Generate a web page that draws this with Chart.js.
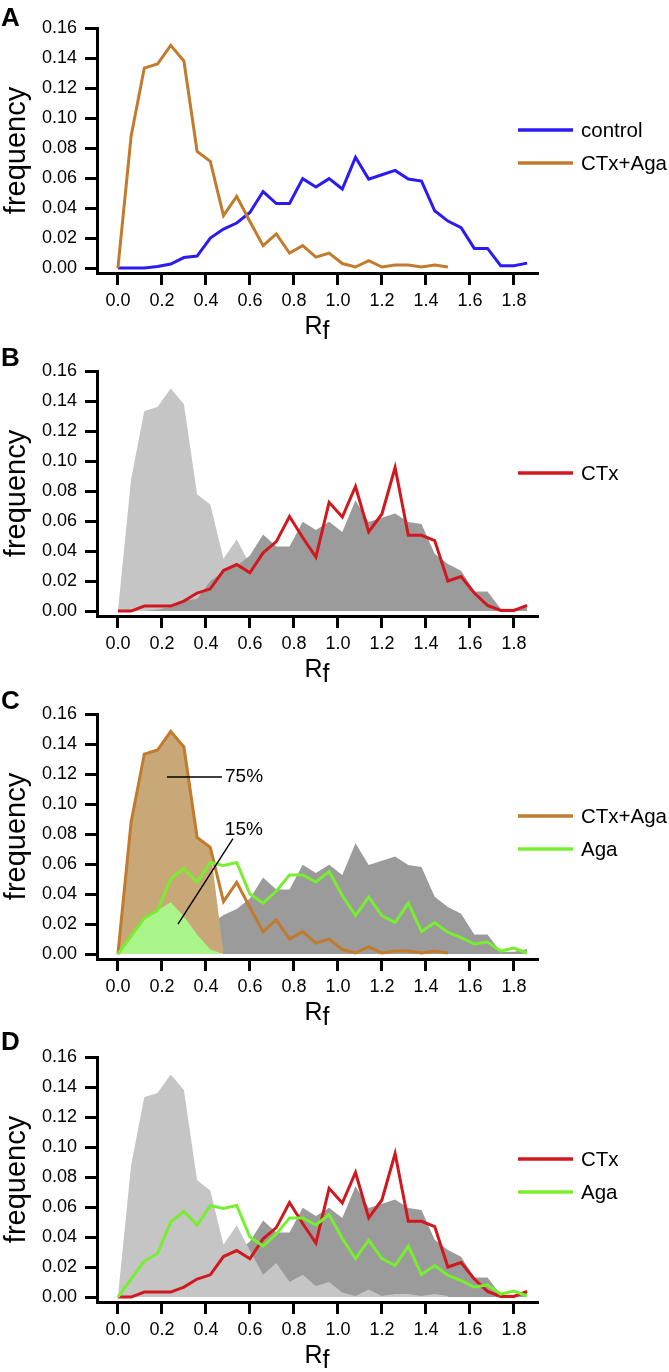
<!DOCTYPE html>
<html>
<head>
<meta charset="utf-8">
<script src="https://cdn.jsdelivr.net/npm/chart.js@4/dist/chart.umd.min.js"></script>
<style>
  body { margin: 0; background: #fff; }
  .panel { position: relative; width: 669px; height: 343px; }
  .panel canvas { display: block; }
  .tag { position: absolute; left: 1px; top: 0px; font: bold 26px "Liberation Sans", Arial, sans-serif; color: #000; }
</style>
</head>
<body>
<div class="panel"><span class="tag" style="top:2px">A</span><canvas id="chartA" width="669" height="343"></canvas></div>
<div class="panel"><span class="tag" style="top:-1px">B</span><canvas id="chartB" width="669" height="343"></canvas></div>
<div class="panel"><span class="tag" style="top:-1px">C</span><canvas id="chartC" width="669" height="343"></canvas></div>
<div class="panel"><span class="tag" style="top:-3px">D</span><canvas id="chartD" width="669" height="343"></canvas></div>

<script>
// Rf bins (x positions of every point)
const rfBins = [0, 0.06, 0.12, 0.18, 0.24, 0.30, 0.36, 0.42, 0.48, 0.54, 0.60, 0.66, 0.72, 0.78, 0.84, 0.90,
                0.96, 1.02, 1.08, 1.14, 1.20, 1.26, 1.32, 1.38, 1.44, 1.50, 1.56, 1.62, 1.68, 1.74, 1.80, 1.86];

const control = [0, 0, 0, 0.001, 0.0027, 0.007, 0.008, 0.020, 0.026, 0.030, 0.037, 0.051, 0.043, 0.043, 0.0596, 0.054,
                 0.0596, 0.0527, 0.0738, 0.0593, 0.0622, 0.0651, 0.0593, 0.058, 0.0382, 0.0313, 0.0269, 0.0131, 0.0131, 0.0016, 0.0016, 0.0033];

const ctxAga = [0, 0.0878, 0.1333, 0.136, 0.1484, 0.138, 0.0778, 0.0711, 0.0349, 0.0478, 0.031, 0.0149, 0.0227, 0.010, 0.0149, 0.0073,
                0.010, 0.003, 0.0007, 0.005, 0.0007, 0.002, 0.002, 0.0007, 0.002, 0.0007];

const ctxOnly = [0, 0, 0.0033, 0.0033, 0.0033, 0.0066, 0.012, 0.0148, 0.027, 0.031, 0.0255, 0.0388, 0.0463, 0.063, 0.049, 0.036,
                 0.0725, 0.0627, 0.083, 0.0527, 0.0647, 0.0957, 0.0505, 0.0505, 0.047, 0.020, 0.023, 0.012, 0.0038, 0.0004, 0.0004, 0.0038];

const aga = [0, 0.012, 0.024, 0.029, 0.050, 0.057, 0.048, 0.061, 0.059, 0.061, 0.040, 0.034, 0.042, 0.0527, 0.0527, 0.048,
             0.055, 0.039, 0.0256, 0.038, 0.0256, 0.021, 0.034, 0.015, 0.021, 0.0144, 0.011, 0.0067, 0.008, 0.002, 0.004, 0.0007];

// shaded early components in panel C (first 9 bins)
const ctxAgaEarly = [0, 0.0878, 0.1333, 0.136, 0.1484, 0.138, 0.0778, 0.0711, 0];
const agaEarly = [0, 0.013, 0.023, 0.029, 0.0345, 0.025, 0.013, 0.003, 0];

const xTicks = [0, 0.2, 0.4, 0.6, 0.8, 1.0, 1.2, 1.4, 1.6, 1.8];
const yTicks = [0, 0.02, 0.04, 0.06, 0.08, 0.10, 0.12, 0.14, 0.16];

const FONT = '"Liberation Sans", Arial, sans-serif';
const BLUE = '#2b1bf2', ORANGE = '#c27a2c', RED = '#d0181e', GREEN = '#78ee30';
const TAN = '#c9a877', GREEN_FILL = '#a9f58a', LIGHT = '#c5c5c5', DARK = '#9b9b9b';

const pts = vals => vals.map((v, i) => ({ x: rfBins[i], y: v }));

function line(label, vals, color, order) {
  return { label, data: pts(vals), borderColor: color, borderWidth: 3, pointRadius: 0, fill: false, tension: 0, order };
}
function area(vals, color, order) {
  return { label: '', data: pts(vals), backgroundColor: color, borderColor: 'rgba(0,0,0,0)', borderWidth: 0,
           pointRadius: 0, fill: 'origin', tension: 0, order };
}

// legend at the right side, built from labelled datasets
const panelLegend = {
  id: 'panelLegend',
  afterDraw(chart) {
    const c = chart.ctx;
    const items = chart.data.datasets.filter(d => d.label);
    c.save();
    items.forEach((d, k) => {
      const y = 130 + k * 33;
      c.strokeStyle = d.borderColor;
      c.lineWidth = 3.3;
      c.beginPath(); c.moveTo(518, y); c.lineTo(573, y); c.stroke();
      c.fillStyle = '#000';
      c.font = '20.5px ' + FONT;
      c.textBaseline = 'middle';
      c.textAlign = 'left';
      c.fillText(d.label, 581, y + 1);
    });
    c.restore();
  }
};

// x axis title "Rf" with lowered f
const rfTitle = {
  id: 'rfTitle',
  afterDraw(chart) {
    const c = chart.ctx, a = chart.chartArea;
    c.save();
    c.fillStyle = '#000';
    c.font = '25px ' + FONT;
    c.textBaseline = 'alphabetic';
    c.textAlign = 'left';
    const wR = c.measureText('R').width, wf = c.measureText('f').width;
    const x0 = (a.left + a.right) / 2 - (wR + wf) / 2;
    c.fillText('R', x0, 334);
    c.fillText('f', x0 + wR, 339);
    c.restore();
  }
};

// percentage callouts (panel C)
const callouts = {
  id: 'callouts',
  afterDraw(chart, args, opts) {
    const notes = opts.notes || [];
    const c = chart.ctx, sx = chart.scales.x, sy = chart.scales.y;
    c.save();
    notes.forEach(n => {
      c.strokeStyle = '#000';
      c.lineWidth = 1.4;
      c.beginPath();
      c.moveTo(sx.getPixelForValue(n.from[0]), sy.getPixelForValue(n.from[1]));
      c.lineTo(sx.getPixelForValue(n.to[0]), sy.getPixelForValue(n.to[1]));
      c.stroke();
      c.fillStyle = '#000';
      c.font = '19px ' + FONT;
      c.textBaseline = 'middle';
      c.textAlign = 'left';
      c.fillText(n.text, sx.getPixelForValue(n.at[0]), sy.getPixelForValue(n.at[1]));
    });
    c.restore();
  }
};

function makeChart(id, datasets, notes) {
  return new Chart(document.getElementById(id), {
    type: 'line',
    data: { datasets },
    options: {
      responsive: false,
      animation: false,
      layout: { padding: { top: 28, right: 132, bottom: 0, left: 0 } },
      plugins: { legend: { display: false }, tooltip: { enabled: false }, callouts: { notes: notes || [] } },
      scales: {
        x: {
          type: 'linear', min: -0.095, max: 1.905,
          afterBuildTicks: s => { s.ticks = xTicks.map(v => ({ value: v })); },
          afterFit: s => { s.height = 70; },
          grid: { drawOnChartArea: false, drawTicks: true, tickLength: 12, color: '#000', lineWidth: 3 },
          border: { display: true, color: '#000', width: 3 },
          ticks: { color: '#000', font: { size: 18, family: FONT }, padding: 5, maxRotation: 0,
                   callback: v => Number(v).toFixed(1) }
        },
        y: {
          type: 'linear', min: -0.0033, max: 0.16,
          afterBuildTicks: s => { s.ticks = yTicks.map(v => ({ value: v })); },
          afterFit: s => { s.width = 97; },
          grid: { drawOnChartArea: false, drawTicks: true, tickLength: 12, color: '#000', lineWidth: 3 },
          border: { display: true, color: '#000', width: 3 },
          ticks: { color: '#000', font: { size: 18, family: FONT }, padding: 8,
                   callback: v => Number(v).toFixed(2) },
          title: { display: true, text: 'frequency', color: '#000', font: { size: 29, family: FONT }, padding: 0 }
        }
      }
    },
    plugins: [panelLegend, rfTitle, callouts]
  });
}

makeChart('chartA', [
  line('control', control, BLUE, 1),
  line('CTx+Aga', ctxAga, ORANGE, 0)
]);

makeChart('chartB', [
  line('CTx', ctxOnly, RED, 0),
  area(control, DARK, 2),
  area(ctxAga, LIGHT, 3)
]);

makeChart('chartC', [
  line('CTx+Aga', ctxAga, ORANGE, 1),
  line('Aga', aga, GREEN, 0),
  area(agaEarly, GREEN_FILL, 2),
  area(ctxAgaEarly, TAN, 3),
  area(control, DARK, 4)
], [
  { text: '75%', from: [0.223, 0.118], to: [0.473, 0.118], at: [0.487, 0.118] },
  { text: '15%', from: [0.273, 0.020], to: [0.523, 0.077], at: [0.486, 0.083] }
]);

makeChart('chartD', [
  line('CTx', ctxOnly, RED, 1),
  line('Aga', aga, GREEN, 0),
  area(ctxAga, LIGHT, 2),
  area(control, DARK, 3)
]);
</script>
</body>
</html>
